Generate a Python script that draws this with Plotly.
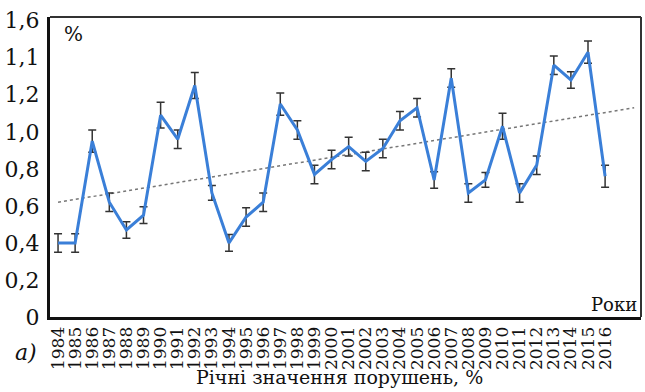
import plotly.graph_objects as go

years = list(range(1984, 2017))
values = [0.40, 0.40, 0.95, 0.62, 0.47, 0.55, 1.09, 0.96, 1.25, 0.67, 0.40,
          0.54, 0.62, 1.15, 1.01, 0.77, 0.85, 0.92, 0.84, 0.91, 1.06, 1.13,
          0.74, 1.29, 0.67, 0.74, 1.03, 0.67, 0.82, 1.36, 1.28, 1.43, 0.76]
errors = [0.05, 0.05, 0.06, 0.05, 0.045, 0.045, 0.07, 0.05, 0.07, 0.04, 0.045,
          0.05, 0.05, 0.06, 0.05, 0.05, 0.05, 0.05, 0.05, 0.05, 0.05, 0.05,
          0.045, 0.05, 0.05, 0.04, 0.07, 0.05, 0.05, 0.05, 0.045, 0.06, 0.06]
trend_x = [1984, 2017.7]
trend_y = [0.62, 1.13]
y_tickvals = [0, 0.2, 0.4, 0.6, 0.8, 1.0, 1.2, 1.4, 1.6]
y_ticktext = ["0", "0,2", "0,4", "0,6", "0,8", "1,0", "1,2", "1,1", "1,6"]
x_ticktext = [str(y) for y in years]

serif = "DejaVu Serif"

fig = go.Figure()
fig.add_trace(go.Scatter(
    x=trend_x, y=trend_y, mode="lines",
    line=dict(color="#777777", width=1.5, dash="dot"),
    hoverinfo="skip", showlegend=False))
fig.add_trace(go.Scatter(
    x=years, y=values, mode="lines",
    line=dict(color="#3a7fd8", width=3),
    error_y=dict(type="data", array=errors, visible=True,
                 color="#333333", thickness=1.5, width=4),
    showlegend=False))

fig.update_layout(
    width=645, height=392,
    margin=dict(l=50, r=4, t=17, b=75),
    paper_bgcolor="white", plot_bgcolor="white",
    font=dict(family=serif, color="#111111"),
    xaxis=dict(range=[1983.53, 2018.1], tickmode="array", tickvals=years,
               ticktext=x_ticktext, tickangle=-90, showgrid=False,
               zeroline=False, showline=True, linecolor="#111111",
               linewidth=3, ticks="", tickfont=dict(size=17, family=serif)),
    yaxis=dict(range=[0, 1.62], tickmode="array", tickvals=y_tickvals,
               ticktext=y_ticktext, showgrid=False, zeroline=False,
               showline=True, linecolor="#111111", linewidth=3, ticks="",
               ticklabelstandoff=3,
               tickfont=dict(size=22, family=serif)),
    shapes=[
        dict(type="line", xref="paper", yref="paper", x0=0, x1=1, y0=1, y1=1,
             line=dict(color="#333333", width=2)),
        dict(type="line", xref="paper", yref="paper", x0=1, x1=1, y0=0, y1=1,
             line=dict(color="#333333", width=2)),
    ],
    annotations=[
        dict(text="%", xref="paper", yref="paper", x=0.02, y=0.99,
             xanchor="left", yanchor="top", showarrow=False,
             font=dict(size=20, family=serif)),
        dict(text="Роки", xref="paper", yref="paper", x=0.997, y=0.0,
             xanchor="right", yanchor="bottom", showarrow=False,
             font=dict(size=18, family=serif)),
        dict(text="<i>а)</i>", xref="paper", yref="paper", x=-0.062, y=-0.07,
             xanchor="left", yanchor="top", showarrow=False,
             font=dict(size=22, family=serif)),
        dict(text="Річні значення порушень, %", xref="paper", yref="paper",
             x=0.49, y=-0.155, xanchor="center", yanchor="top",
             showarrow=False, font=dict(size=19, family=serif)),
    ],
)

fig.write_html("out.html", config={"displayModeBar": False},
               post_script="document.body.style.margin='0';document.body.style.overflow='hidden';")
